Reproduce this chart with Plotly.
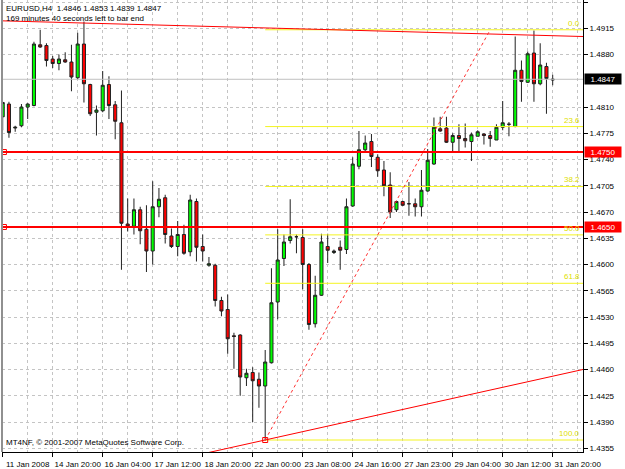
import plotly.graph_objects as go

# ---------------- data (EURUSD H4) ----------------
bar_index = list(range(89))
opens = [1.4797, 1.4814, 1.4782, 1.4785, 1.4810, 1.4812, 1.4893, 1.4892, 1.4874, 1.4868,
         1.4873, 1.4870, 1.4849, 1.4894, 1.4840, 1.4803, 1.4805, 1.4840, 1.4813, 1.4789,
         1.4654, 1.4651, 1.4673, 1.4647, 1.4618, 1.4677, 1.4689, 1.4638, 1.4624, 1.4640,
         1.4617, 1.4684, 1.4624, 1.4599, 1.4599, 1.4552, 1.4540, 1.4505, 1.4506, 1.4449,
         1.4456, 1.4447, 1.4438, 1.4469, 1.4550, 1.4608, 1.4632, 1.4637, 1.4636, 1.4600,
         1.4521, 1.4559, 1.4624, 1.4616, 1.4623, 1.4620, 1.4678, 1.4731, 1.4753, 1.4764,
         1.4743, 1.4726, 1.4706, 1.4673, 1.4684, 1.4681, 1.4681, 1.4677, 1.4698, 1.4734,
         1.4781, 1.4782, 1.4763, 1.4772, 1.4768, 1.4764, 1.4771, 1.4774, 1.4772, 1.4766,
         1.4783, 1.4787, 1.4784, 1.4859, 1.4843, 1.4882, 1.4841, 1.4864, 1.4846]
highs = [1.4817, 1.4817, 1.4785, 1.4814, 1.4815, 1.4897, 1.4913, 1.4895, 1.4878, 1.4880,
         1.4883, 1.4893, 1.4909, 1.4924, 1.4841, 1.4812, 1.4858, 1.4851, 1.4818, 1.4832,
         1.4688, 1.4688, 1.4677, 1.4679, 1.4711, 1.4702, 1.4693, 1.4648, 1.4658, 1.4653,
         1.4693, 1.4688, 1.4640, 1.4610, 1.4601, 1.4557, 1.4560, 1.4509, 1.4507, 1.4461,
         1.4463, 1.4456, 1.4486, 1.4595, 1.4647, 1.4640, 1.4687, 1.4640, 1.4647, 1.4602,
         1.4585, 1.4641, 1.4641, 1.4620, 1.4632, 1.4688, 1.4743, 1.4778, 1.4772, 1.4774,
         1.4747, 1.4738, 1.4723, 1.4685, 1.4685, 1.4710, 1.4688, 1.4726, 1.4754, 1.4796,
         1.4797, 1.4797, 1.4775, 1.4787, 1.4788, 1.4776, 1.4779, 1.4775, 1.4778, 1.4787,
         1.4818, 1.4790, 1.4904, 1.4872, 1.4884, 1.4912, 1.4895, 1.4869, 1.4853]
lows = [1.4779, 1.4769, 1.4777, 1.4783, 1.4794, 1.4811, 1.4889, 1.4864, 1.4862, 1.4859,
        1.4869, 1.4831, 1.4847, 1.4816, 1.4798, 1.4772, 1.4803, 1.4794, 1.4767, 1.4593,
        1.4644, 1.4640, 1.4627, 1.4590, 1.4600, 1.4663, 1.4628, 1.4622, 1.4611, 1.4613,
        1.4611, 1.4604, 1.4604, 1.4597, 1.4544, 1.4531, 1.4481, 1.4461, 1.4425, 1.4438,
        1.4390, 1.4409, 1.4365, 1.4468, 1.4527, 1.4598, 1.4628, 1.4615, 1.4567, 1.4513,
        1.4516, 1.4558, 1.4602, 1.4614, 1.4593, 1.4614, 1.4677, 1.4727, 1.4751, 1.4730,
        1.4717, 1.4691, 1.4662, 1.4670, 1.4678, 1.4665, 1.4664, 1.4664, 1.4697, 1.4733,
        1.4777, 1.4762, 1.4749, 1.4750, 1.4756, 1.4738, 1.4771, 1.4760, 1.4757, 1.4766,
        1.4779, 1.4771, 1.4783, 1.4817, 1.4842, 1.4817, 1.4839, 1.4801, 1.4839]
closes = [1.4816, 1.4776, 1.4783, 1.4810, 1.4814, 1.4894, 1.4890, 1.4872, 1.4868, 1.4874,
          1.4870, 1.4850, 1.4894, 1.4841, 1.4801, 1.4806, 1.4839, 1.4812, 1.4791, 1.4655,
          1.4651, 1.4673, 1.4645, 1.4618, 1.4677, 1.4687, 1.4640, 1.4624, 1.4640, 1.4615,
          1.4686, 1.4623, 1.4618, 1.4601, 1.4552, 1.4538, 1.4501, 1.4504, 1.4450, 1.4455,
          1.4445, 1.4438, 1.4470, 1.4549, 1.4606, 1.4630, 1.4637, 1.4637, 1.4600, 1.4520,
          1.4559, 1.4630, 1.4619, 1.4618, 1.4619, 1.4677, 1.4734, 1.4753, 1.4762, 1.4744,
          1.4725, 1.4705, 1.4670, 1.4684, 1.4679, 1.4681, 1.4677, 1.4699, 1.4739, 1.4783,
          1.4778, 1.4763, 1.4772, 1.4768, 1.4765, 1.4773, 1.4777, 1.4772, 1.4768, 1.4783,
          1.4789, 1.4787, 1.4859, 1.4844, 1.4881, 1.4841, 1.4866, 1.4848, 1.4847]

time_tick_bars = [0, 8, 16, 24, 32, 40, 48, 56, 64, 72, 80, 88]
time_tick_labels = ["11 Jan 2008", "14 Jan 20:00", "16 Jan 04:00", "17 Jan 12:00",
                    "18 Jan 20:00", "22 Jan 00:00", "23 Jan 08:00", "24 Jan 16:00",
                    "27 Jan 23:00", "29 Jan 04:00", "30 Jan 12:00", "31 Jan 20:00"]
# 1.4845 is hidden behind the current-price box, as in the terminal
price_ticks = [1.4355, 1.4390, 1.4425, 1.4460, 1.4495, 1.4530, 1.4565, 1.4600, 1.4635,
               1.4670, 1.4705, 1.4740, 1.4775, 1.4810, 1.4880, 1.4915, 1.4950]

bid_price = 1.4847
hlines = [1.4750, 1.4650]
hline_anchor_bar = 0.2
trend_top_bars = [-0.45, 92.9]
trend_top_prices = [1.4925, 1.4904]
trend_low_bars = [33, 93]
trend_low_prices = [1.43494, 1.44603]
fib_bars = [42, 78]
fib_prices = [1.4366, 1.4913]
fib_ratios = [0.0, 23.6, 38.2, 50.0, 61.8, 100.0]

x_range = [-0.11, 92.85]
y_range = [1.4350, 1.49527]

FONT = "Liberation Sans"
GRID = "#c4c4c4"

fig = go.Figure()

fib_lo, fib_hi = fib_prices
for r in fib_ratios:
    lvl = fib_hi - (fib_hi - fib_lo) * r / 100.0
    fig.add_trace(go.Scatter(x=[fib_bars[0], x_range[1]], y=[lvl, lvl], mode="lines",
                             line=dict(color="#f4f420", width=1), hoverinfo="skip",
                             showlegend=False))
    fig.add_annotation(x=1, xref="paper", y=lvl, yref="y", text="%.1f" % r,
                       showarrow=False, xanchor="right", yanchor="bottom", xshift=-1,
                       font=dict(family=FONT, size=8, color="#e0e000"))

fig.add_trace(go.Scatter(x=x_range, y=[bid_price, bid_price], mode="lines",
                         line=dict(color="#c0c0c0", width=1), hoverinfo="skip",
                         showlegend=False))

fig.add_trace(go.Scatter(x=trend_top_bars, y=trend_top_prices, mode="lines",
                         line=dict(color="#ff0000", width=1), hoverinfo="skip", showlegend=False))
fig.add_trace(go.Scatter(x=trend_low_bars, y=trend_low_prices, mode="lines",
                         line=dict(color="#ff0000", width=1), hoverinfo="skip", showlegend=False))
fig.add_trace(go.Scatter(x=fib_bars, y=fib_prices, mode="lines",
                         line=dict(color="#ff3030", width=1, dash="dot"), hoverinfo="skip",
                         showlegend=False))

fig.add_trace(go.Candlestick(
    x=bar_index, open=opens, high=highs, low=lows, close=closes,
    increasing=dict(fillcolor="#00ff00", line=dict(color="#202020", width=1)),
    decreasing=dict(fillcolor="#ff0000", line=dict(color="#202020", width=1)),
    whiskerwidth=0, showlegend=False, hoverinfo="skip"))

for h in hlines:
    fig.add_trace(go.Scatter(x=x_range, y=[h, h], mode="lines",
                             line=dict(color="#ff0000", width=2), hoverinfo="skip",
                             showlegend=False))

fig.add_trace(go.Scatter(x=[hline_anchor_bar] * len(hlines) + [fib_bars[0]],
                         y=hlines + [fib_prices[0]], mode="markers",
                         marker=dict(symbol="square-open", size=5, color="#ff0000",
                                     line=dict(width=1, color="#ff0000")),
                         hoverinfo="skip", showlegend=False))

for h in hlines:
    fig.add_annotation(x=1, xref="paper", y=h, yref="y", text="%.4f" % h, showarrow=False,
                       xanchor="left", yanchor="middle", xshift=1, width=36, height=10,
                       align="center", bgcolor="#ff0000", borderpad=0,
                       font=dict(family=FONT, size=8, color="white"))
fig.add_annotation(x=1, xref="paper", y=bid_price, yref="y", text="%.4f" % bid_price,
                   showarrow=False, xanchor="left", yanchor="middle", xshift=1, width=36,
                   height=10, align="center", bgcolor="#000000", borderpad=0,
                   font=dict(family=FONT, size=8, color="white"))

fig.add_annotation(x=0, xref="paper", y=1, yref="paper", xanchor="left", yanchor="top",
                   xshift=2, yshift=-2, showarrow=False, align="left",
                   text="EURUSD,H4  %.4f %.4f %.4f %.4f<br>169 minutes 40 seconds left to bar end"
                        % (opens[-1], highs[-1], lows[-1], closes[-1]),
                   font=dict(family=FONT, size=8, color="black"))
fig.add_annotation(x=0, xref="paper", y=0, yref="paper", xanchor="left", yanchor="bottom",
                   xshift=2, yshift=3, showarrow=False,
                   text="MT4NF, © 2001-2007 MetaQuotes Software Corp.",
                   font=dict(family=FONT, size=8, color="black"))

fig.add_shape(type="line", xref="paper", yref="paper", x0=0, x1=0, y0=0, y1=1,
              line=dict(color="#909090", width=2))

fig.update_layout(
    width=625, height=469, margin=dict(l=2, r=42, t=0, b=14),
    paper_bgcolor="white", plot_bgcolor="white", showlegend=False,
    font=dict(family=FONT, size=8, color="black"),
    xaxis=dict(range=x_range, rangeslider=dict(visible=False), tickmode="array",
               tickvals=time_tick_bars, ticktext=time_tick_labels, ticks="outside",
               ticklen=4, tickcolor="black", showline=True, linecolor="black", linewidth=1,
               showgrid=True, gridcolor=GRID, griddash="3px,3px", gridwidth=1,
               ticklabelshift=25, ticklabelstandoff=0, zeroline=False,
               minor=dict(tickmode="linear", tick0=0, dtick=4, showgrid=True,
                          gridcolor=GRID, griddash="3px,3px", ticklen=0),
               tickfont=dict(family=FONT, size=8, color="black")),
    yaxis=dict(range=y_range, side="right", tickmode="array", tickvals=price_ticks,
               ticktext=["%.4f" % v for v in price_ticks], ticks="outside", ticklen=4,
               tickcolor="black", showline=True, linecolor="black", linewidth=1,
               showgrid=True, gridcolor=GRID, griddash="3px,3px", zeroline=False,
               tickfont=dict(family=FONT, size=8, color="black")),
)

fig.write_html("out.html")
